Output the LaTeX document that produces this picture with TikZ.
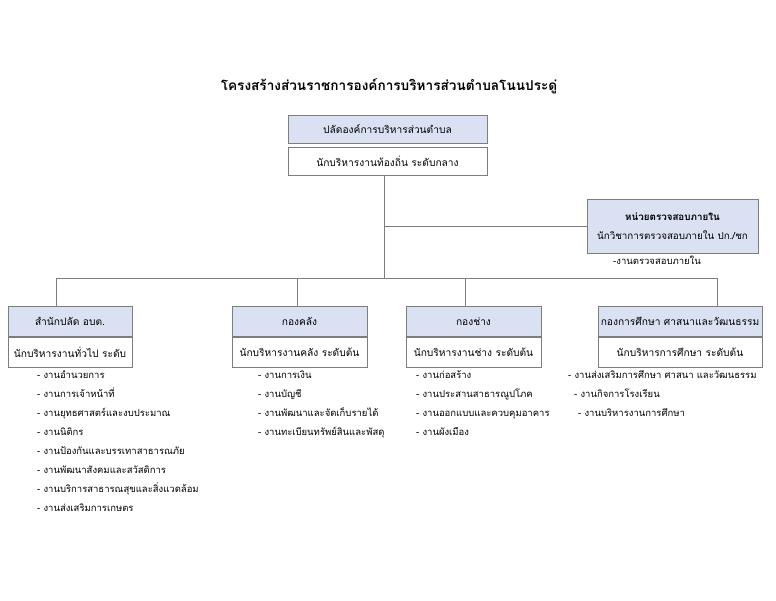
\documentclass[tikz,border=0pt]{standalone}
\usepackage{fontspec}
\newfontfamily\thaifont[Script=Thai]{Loma}
\usetikzlibrary{positioning}
\definecolor{boxblue}{RGB}{217,225,242}
\definecolor{linegray}{RGB}{125,125,125}

\begin{document}
\begin{tikzpicture}[x=1pt, y=-1pt,
        unit/.style={draw=linegray, fill=boxblue, minimum height=30pt, inner sep=2pt,
            font=\thaifont\fontsize{10.2}{12}\selectfont},
        post/.style={unit, fill=white},
        duty/.style={anchor=base west, inner sep=0pt,
            font=\thaifont\fontsize{9.5}{12}\selectfont},
        link/.style={draw=linegray, line width=0.8pt}]
\useasboundingbox (0,0) rectangle (776,600);

\node[font=\thaifont\bfseries\fontsize{13.6}{16}\selectfont] (title) at (389,86) {โครงสร้างส่วนราชการองค์การบริหารส่วนตำบลโนนประดู่};

% head of the office
\node[unit, minimum width=199pt, minimum height=28pt] (head) at (387.5,129) {ปลัดองค์การบริหารส่วนตำบล};
\node[post, minimum width=199pt, minimum height=28pt, below=4pt of head] (headpost) {นักบริหารงานท้องถิ่น ระดับกลาง};

\node[unit, minimum width=171pt, minimum height=54pt, align=center,
    font=\thaifont\fontsize{9.8}{19}\selectfont] (audit) at (672.5,226)
    {{\bfseries หน่วยตรวจสอบภายใน}\\นักวิชาการตรวจสอบภายใน ปก./ชก};
\node[duty] (auditduty) at (613,264) {-งานตรวจสอบภายใน};

% four offices
\node[unit, minimum width=124pt] (off1) at (70,321.5) {สำนักปลัด อบต.};
\node[post, minimum width=124pt, below=0pt of off1] (off1post) {นักบริหารงานทั่วไป ระดับ};
\node[unit, minimum width=135pt] (off2) at (299.5,321.5) {กองคลัง};
\node[post, minimum width=135pt, below=0pt of off2] (off2post) {นักบริหารงานคลัง ระดับต้น};
\node[unit, minimum width=135pt] (off3) at (473.5,321.5) {กองช่าง};
\node[post, minimum width=135pt, below=0pt of off3] (off3post) {นักบริหารงานช่าง ระดับต้น};
\node[unit, minimum width=164pt] (off4) at (680,321.5) {กองการศึกษา ศาสนาและวัฒนธรรม};
\node[post, minimum width=164pt, below=0pt of off4] (off4post) {นักบริหารการศึกษา ระดับต้น};

% connectors
\coordinate (trunk) at (384,278);
\coordinate (b1) at (56,278);
\coordinate (b2) at (297,278);
\coordinate (b3) at (465,278);
\coordinate (b4) at (717,278);
\draw[link] (trunk |- headpost.south) -- (trunk);
\draw[link] (audit.west) -- (audit.west -| trunk);
\draw[link] (b1) -- (b4);
\foreach \b/\o in {b1/off1, b2/off2, b3/off3, b4/off4}
    \draw[link] (\b) -- (\b |- \o.north);

% duties
\foreach \t [count=\i] in {งานอำนวยการ, งานการเจ้าหน้าที่, งานยุทธศาสตร์และงบประมาณ, งานนิติกร,
        งานป้องกันและบรรเทาสาธารณภัย, งานพัฒนาสังคมและสวัสดิการ,
        งานบริการสาธารณสุขและสิ่งแวดล้อม, งานส่งเสริมการเกษตร}
    \node[duty] (duty1-\i) at (37,{378.5+19*(\i-1)}) {- \t};
\foreach \t [count=\i] in {งานการเงิน, งานบัญชี, งานพัฒนาและจัดเก็บรายได้, งานทะเบียนทรัพย์สินและพัสดุ}
    \node[duty] (duty2-\i) at (258,{378.5+19*(\i-1)}) {- \t};
\foreach \t [count=\i] in {งานก่อสร้าง, งานประสานสาธารณูปโภค, งานออกแบบและควบคุมอาคาร, งานผังเมือง}
    \node[duty] (duty3-\i) at (416,{378.5+19*(\i-1)}) {- \t};
\foreach \t/\x [count=\i] in {งานส่งเสริมการศึกษา ศาสนา และวัฒนธรรม/568, งานกิจการโรงเรียน/574, งานบริหารงานการศึกษา/578}
    \node[duty] (duty4-\i) at (\x,{378.5+19*(\i-1)}) {- \t};

\end{tikzpicture}
\end{document}
